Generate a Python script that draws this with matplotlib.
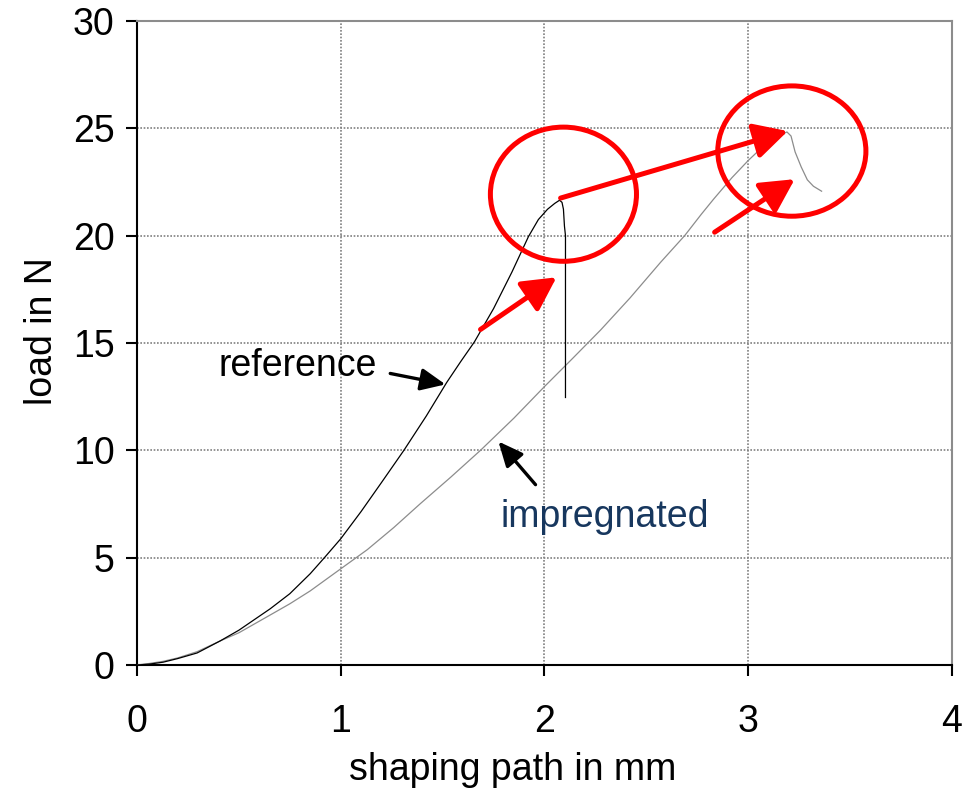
import matplotlib
matplotlib.use("Agg")
import matplotlib.pyplot as plt
from matplotlib.patches import Ellipse

plt.rcParams['font.family'] = ['Liberation Sans', 'DejaVu Sans']

# reference curve (shaping path in mm, load in N)
ref_x = [0.0, 0.06, 0.128, 0.2, 0.295, 0.408, 0.5, 0.654, 0.75, 0.85, 0.92, 1.0,
         1.1, 1.2, 1.31, 1.42, 1.52, 1.59, 1.656, 1.75, 1.84, 1.921, 1.97, 2.015,
         2.05, 2.074, 2.086, 2.093, 2.098, 2.103, 2.103]
ref_y = [0.0, 0.04, 0.13, 0.3, 0.56, 1.12, 1.62, 2.62, 3.32, 4.25, 5.0, 5.88,
         7.15, 8.5, 10.0, 11.6, 13.16, 14.15, 15.05, 16.6, 18.3, 19.95, 20.75, 21.23,
         21.5, 21.65, 21.55, 21.23, 20.44, 20.0, 12.46]

# impregnated curve
imp_x = [0.0, 0.06, 0.128, 0.2, 0.295, 0.408, 0.5, 0.654, 0.75, 0.85, 1.0, 1.13,
         1.26, 1.39, 1.54, 1.686, 1.85, 2.0, 2.14, 2.275, 2.42, 2.57, 2.688, 2.77,
         2.83, 2.92, 3.0, 3.05, 3.096, 3.15, 3.19, 3.21, 3.23, 3.26, 3.29, 3.32, 3.36]
imp_y = [0.0, 0.07, 0.17, 0.33, 0.62, 1.12, 1.5, 2.33, 2.85, 3.45, 4.48, 5.37,
         6.4, 7.51, 8.75, 10.0, 11.5, 12.97, 14.3, 15.6, 17.1, 18.76, 20.0, 21.0,
         21.7, 22.7, 23.5, 23.95, 24.3, 24.65, 24.83, 24.64, 23.9, 23.2, 22.6, 22.3, 22.07]

x_ticks = [0, 1, 2, 3, 4]
y_ticks = [0, 5, 10, 15, 20, 25, 30]

fig = plt.figure(figsize=(9.75, 7.91), dpi=100)
ax = fig.add_axes([0.1405, 0.1593, 0.9764 - 0.1405, 0.9735 - 0.1593])

ax.set_xlim(0, 4)
ax.set_ylim(0, 30)
ax.set_xticks(x_ticks)
ax.set_yticks(y_ticks)
ax.grid(True, color='#808080', linestyle=(0, (1, 1)), linewidth=1.2)
ax.set_axisbelow(True)

for s in ['left', 'bottom']:
    ax.spines[s].set_color('black')
    ax.spines[s].set_linewidth(1.5)
for s in ['top', 'right']:
    ax.spines[s].set_color('#8c8c8c')
    ax.spines[s].set_linewidth(1.5)

ax.tick_params(axis='both', direction='out', length=8, width=1.5,
               labelsize=27, colors='black')
ax.tick_params(axis='y', pad=8)
ax.tick_params(axis='x', pad=20)
ax.tick_params(top=False, right=False)

ax.plot(imp_x, imp_y, color='#8c8c8c', linewidth=0.9, zorder=3)
ax.plot(ref_x, ref_y, color='black', linewidth=0.9, zorder=3)

ax.set_xlabel('shaping path in mm', fontsize=27)
ax.set_ylabel('load in N', fontsize=27)
ax.xaxis.set_label_coords(0.461, -0.135)
ax.yaxis.set_label_coords(-0.094, 0.519)

# text labels
ax.text(0.398, 13.95, 'reference', fontsize=27, color='black', va='center', ha='left')
ax.text(1.784, 6.9, 'impregnated', fontsize=27, color='#17375e', va='center', ha='left')

# black arrows
black_style = dict(arrowstyle='-|>,head_length=1.0,head_width=0.45',
                   color='black', lw=2.4, shrinkA=0, shrinkB=0, mutation_scale=15)
ax.annotate('', xy=(1.514, 13.07), xytext=(1.243, 13.58), arrowprops=black_style)
ax.annotate('', xy=(1.774, 10.41), xytext=(1.956, 8.40), arrowprops=black_style)

# red ellipses
ax.add_patch(Ellipse((2.093, 21.93), 0.717, 6.25, fill=False, edgecolor='red',
                     linewidth=3.6, zorder=4))
ax.add_patch(Ellipse((3.214, 23.94), 0.727, 6.07, fill=False, edgecolor='red',
                     linewidth=3.6, zorder=4))

# red arrows
red_style = dict(arrowstyle='-|>,head_length=0.85,head_width=0.45',
                 color='red', lw=3.6, shrinkA=0, shrinkB=0, mutation_scale=24)
ax.annotate('', xy=(3.194, 24.87), xytext=(2.079, 21.75), arrowprops=red_style, zorder=5)
ax.annotate('', xy=(2.059, 18.06), xytext=(1.686, 15.63), arrowprops=red_style, zorder=5)
ax.annotate('', xy=(3.228, 22.63), xytext=(2.835, 20.16), arrowprops=red_style, zorder=5)

fig.savefig('out.png', dpi=100)
